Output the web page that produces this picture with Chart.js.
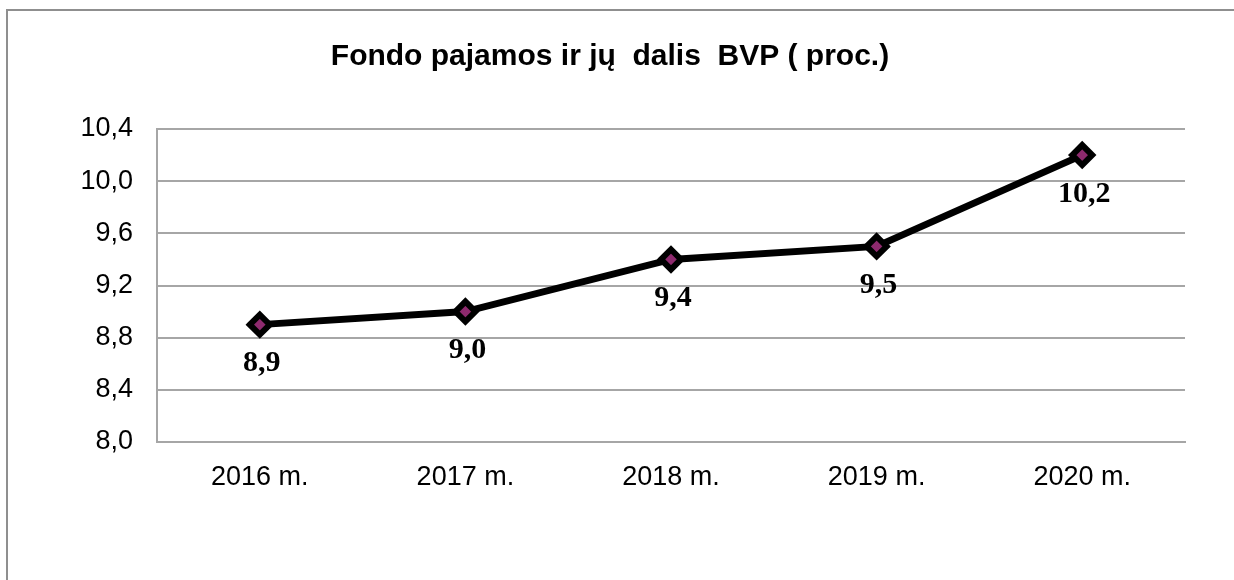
<!DOCTYPE html>
<html>
<head>
<meta charset="utf-8">
<script src="https://cdn.jsdelivr.net/npm/chart.js@4/dist/chart.umd.min.js"></script>
<style>
  html, body { margin: 0; padding: 0; background: #fff; }
  #wrap { width: 1234px; height: 580px; position: relative; }
</style>
</head>
<body>
<div id="wrap"><canvas id="c" width="1234" height="580"></canvas></div>
<script>
const titleText = "Fondo pajamos ir jų  dalis  BVP ( proc.)";
const categories = ["2016 m.", "2017 m.", "2018 m.", "2019 m.", "2020 m."];
const values = [8.9, 9.0, 9.4, 9.5, 10.2];
const yTicks = [8.0, 8.4, 8.8, 9.2, 9.6, 10.0, 10.4];

const fmt = v => Number(v).toFixed(1).replace('.', ',');

const framePlugin = {
  id: 'frame',
  beforeDraw(chart) {
    const ctx = chart.ctx;
    ctx.save();
    ctx.fillStyle = '#ffffff';
    ctx.fillRect(0, 0, chart.width, chart.height);
    ctx.strokeStyle = '#8f8f8f';
    ctx.lineWidth = 2;
    ctx.beginPath();
    ctx.moveTo(7, chart.height);
    ctx.lineTo(7, 10);
    ctx.lineTo(chart.width, 10);
    ctx.stroke();
    ctx.restore();
  }
};

const titlePlugin = {
  id: 'customTitle',
  afterDraw(chart) {
    const ctx = chart.ctx;
    ctx.save();
    ctx.font = 'bold 30px "Liberation Sans", Arial, sans-serif';
    ctx.fillStyle = '#000';
    ctx.textAlign = 'center';
    ctx.textBaseline = 'middle';
    ctx.fillText(titleText, 610, 57);
    ctx.restore();
  }
};

const labelPlugin = {
  id: 'pointLabels',
  afterDatasetsDraw(chart) {
    const ctx = chart.ctx;
    const meta = chart.getDatasetMeta(0);
    ctx.save();
    ctx.font = 'bold 30px "Liberation Serif", "Times New Roman", serif';
    ctx.fillStyle = '#000';
    ctx.textAlign = 'center';
    ctx.textBaseline = 'middle';
    meta.data.forEach((pt, i) => {
      ctx.fillText(fmt(values[i]), pt.x + 2, pt.y + 39);
    });
    ctx.restore();
  }
};

new Chart(document.getElementById('c'), {
  type: 'line',
  data: {
    labels: categories,
    datasets: [{
      data: values,
      borderColor: '#000000',
      borderWidth: 7,
      pointStyle: 'rectRot',
      pointRadius: 10,
      pointHoverRadius: 10,
      pointBorderWidth: 6,
      pointBorderColor: '#000000',
      pointBackgroundColor: '#8e2a6e',
      tension: 0
    }]
  },
  options: {
    responsive: false,
    animation: false,
    devicePixelRatio: 1,
    layout: { padding: { top: 129, left: 0, right: 49, bottom: 78 } },
    plugins: {
      legend: { display: false },
      title: { display: false },
      tooltip: { enabled: false }
    },
    scales: {
      x: {
        offset: true,
        grid: { display: false, drawTicks: false },
        border: { color: '#a6a6a6', width: 2 },
        ticks: {
          color: '#000',
          padding: 19,
          font: { family: '"Liberation Sans", Arial, sans-serif', size: 27 }
        },
        afterFit(s) { s.height = 60; }
      },
      y: {
        min: 8.0,
        max: 10.4,
        grid: { color: '#a6a6a6', lineWidth: 2, drawTicks: false },
        border: { color: '#a6a6a6', width: 2 },
        afterBuildTicks(s) { s.ticks = yTicks.map(v => ({ value: v })); },
        ticks: {
          color: '#000',
          padding: 24,
          font: { family: '"Liberation Sans", Arial, sans-serif', size: 27 },
          callback: v => fmt(v)
        },
        afterFit(s) { s.width = 157; }
      }
    }
  },
  plugins: [framePlugin, titlePlugin, labelPlugin]
});
</script>
</body>
</html>
